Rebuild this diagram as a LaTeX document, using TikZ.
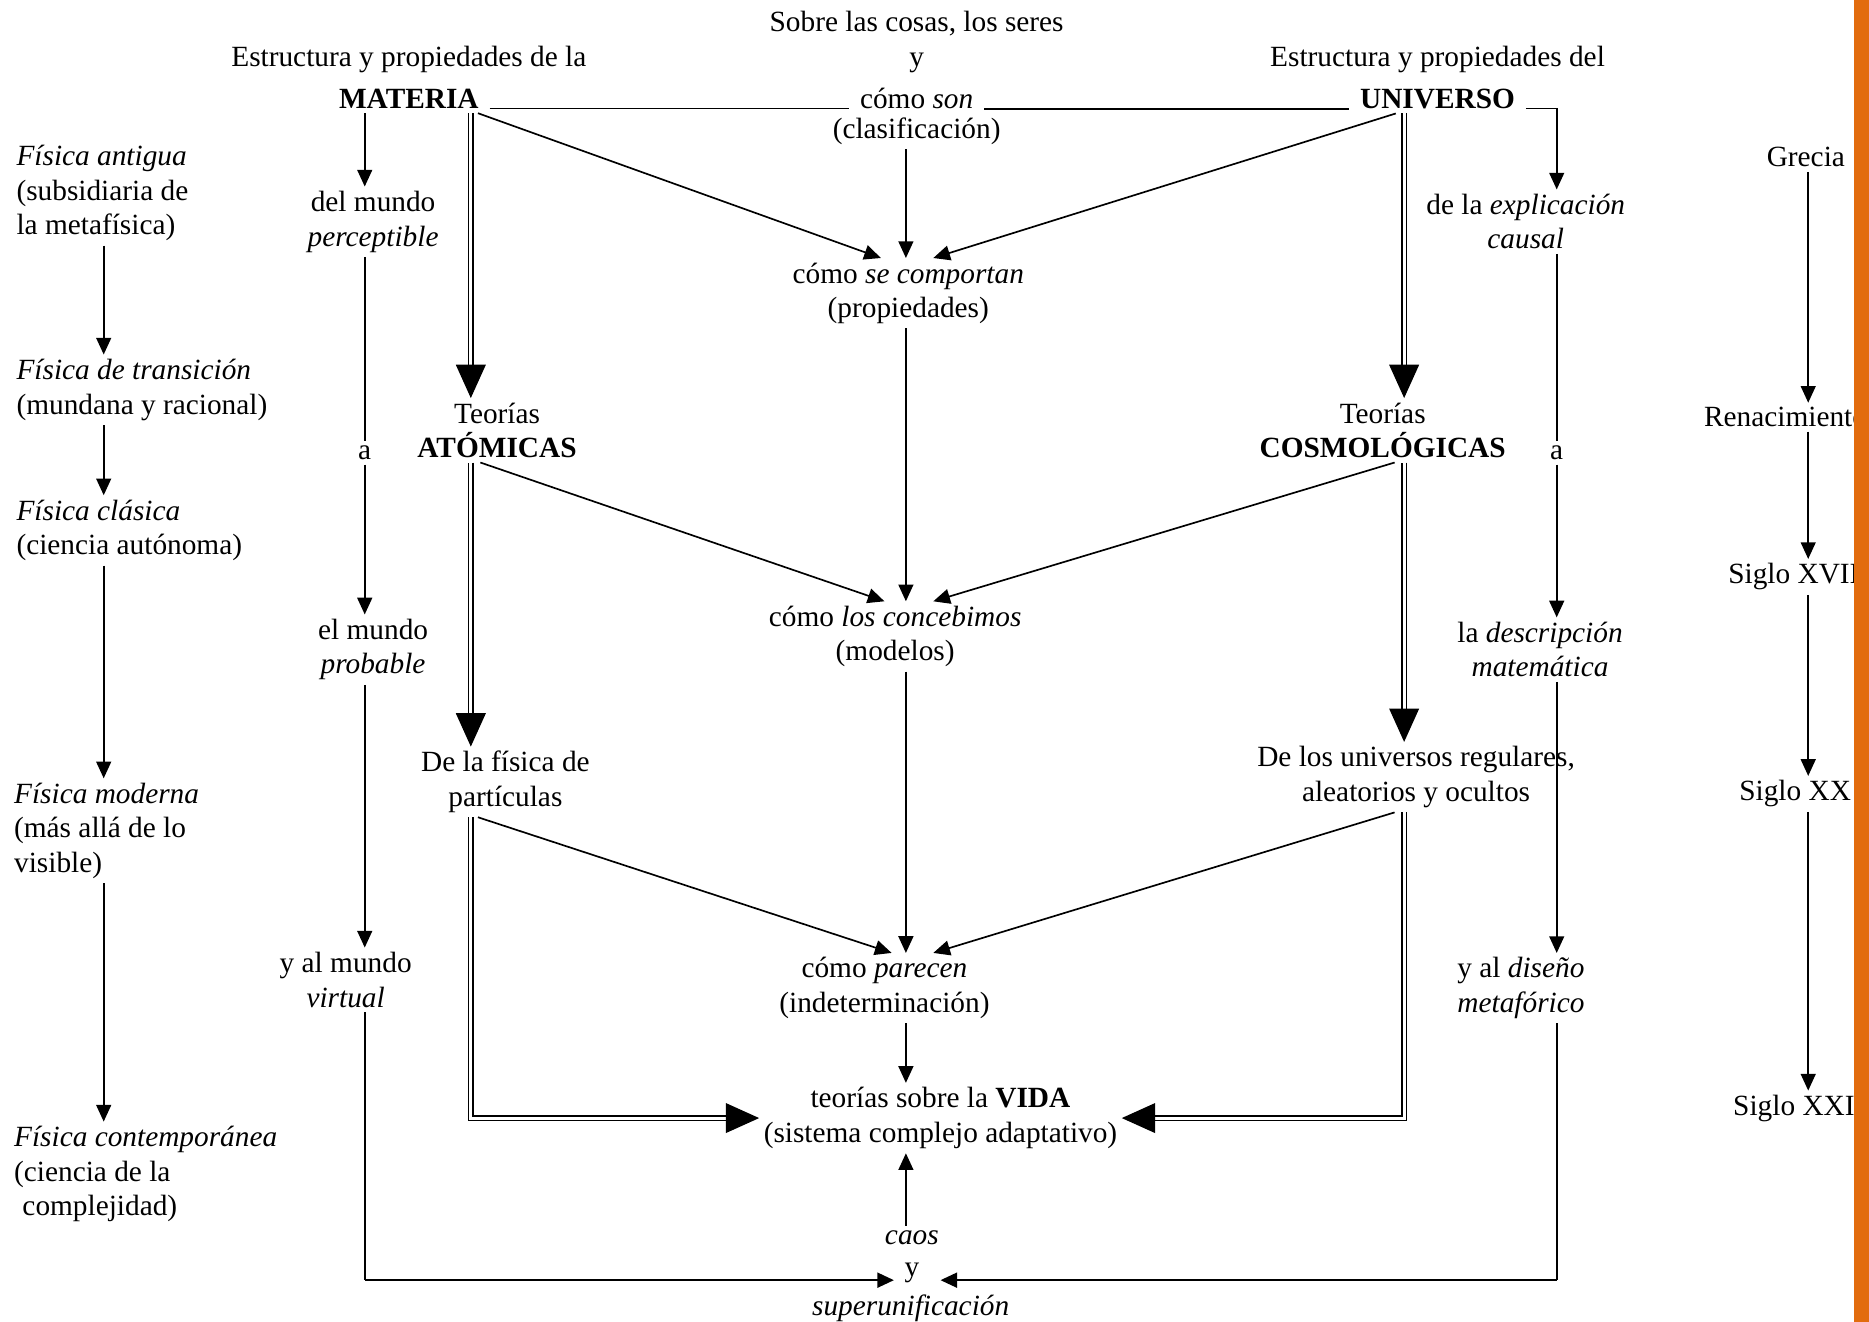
\documentclass[tikz,border=0pt]{standalone}
\usepackage{fontspec}
\setmainfont{Liberation Serif}
\usetikzlibrary{arrows.meta,calc}
\definecolor{barorange}{RGB}{226,108,14}
\tikzset{t/.style={align=center,inner sep=2pt,font=\fontsize{14}{16.5}\selectfont},tl/.style={t,align=left,anchor=west},
ln/.style={line width=0.8pt},ar/.style={ln,-{Triangle[length=2.8mm,width=2.5mm]}},
dbl/.style={double,double distance=1.4pt,line width=0.6pt,-{Triangle[length=5.6mm,width=5mm]}}}

\begin{document}
\begin{tikzpicture}[x=0.2mm,y=-0.2mm]
\useasboundingbox (0,0) rectangle (1568,1109);
% column lines
\coordinate (fl) at (87,0);\coordinate (ll) at (306,0);\coordinate (dl) at (395,0);\coordinate (cc) at (760,0);
\coordinate (dr) at (1178,0);\coordinate (rl) at (1306,0);\coordinate (gl) at (1517,0);
% top
\node[t] (sobre) at (769,35) {Sobre las cosas, los seres\\y};
\node[t,inner xsep=5pt] (son) at (769,83) {cómo \textit{son}};
\node[t] (clas) at (769,110) {(clasificación)};
\node[t] (matT) at (343,50) {Estructura y propiedades de la};
\node[t,inner xsep=5pt] (mat) at (343,83) {\textbf{MATERIA}};
\node[t] (uniT) at (1206,50) {Estructura y propiedades del};
\node[t,inner xsep=5pt] (uni) at (1206,83) {\textbf{UNIVERSO}};
% left: epochs of physics
\node[tl] (fa) at (10,162) {\textit{Física antigua}\\(subsidiaria de\\la metafísica)};
\node[tl] (ft) at (10,327) {\textit{Física de transición}\\(mundana y racional)};
\node[tl] (fc) at (10,445) {\textit{Física clásica}\\(ciencia autónoma)};
\node[tl] (fm) at (8,697) {\textit{Física moderna}\\(más allá de lo\\visible)};
\node[tl] (fco) at (8,985) {\textit{Física contemporánea}\\(ciencia de la\\\hspace{1.4mm}complejidad)};
\foreach\a/\b in{fa/ft,ft/fc,fc/fm,fm/fco}\draw[ar](\a.south -| fl)--(\b.north -| fl);
% matter side
\node[t] (per) at (313,186) {del mundo\\\textit{perceptible}};
\node[t] (a1) at (306,380) {a};
\node[t] (prob) at (313,545) {el mundo\\\textit{probable}};
\node[t] (virt) at (290,822) {y al mundo\\\textit{virtual}};
\node[t] (atom) at (417,361) {Teorías\\\textbf{ATÓMICAS}};
\node[t] (part) at (424,656) {De la física de\\partículas};
% universe side
\node[t] (expl) at (1280,186) {de la \textit{explicación}\\\textit{causal}};
\node[t] (a2) at (1306,380) {a};
\node[t] (desc) at (1292,545) {la \textit{descripción}\\\textit{matemática}};
\node[t] (dis) at (1276,829) {y al \textit{diseño}\\\textit{metafórico}};
\node[t] (cosmo) at (1160,361) {Teorías\\\textbf{COSMOLÓGICAS}};
\node[t] (univ) at (1188,652) {De los universos regulares,\\aleatorios y ocultos};
% centre
\node[t] (comp) at (762,246) {cómo \textit{se comportan}\\(propiedades)};
\node[t] (conc) at (751,534) {cómo \textit{los concebimos}\\(modelos)};
\node[t] (par) at (742,829) {cómo \textit{parecen}\\(indeterminación)};
\node[t] (vida) at (789,938) {teorías sobre la \textbf{VIDA}\\(sistema complejo adaptativo)};
\node[t] (caos) at (765,1038) {\textit{caos}};
\node[t] (yy) at (765,1068) {y};
\node[t] (sup) at (764,1098) {\textit{superunificación}};
% right: epochs
\node[t] (gr) at (1515,132) {Grecia};
\node[t] (ren) at (1498,350) {Renacimiento};
\node[t] (s17) at (1505,484) {Siglo XVII};
\node[t] (s20) at (1506,666) {Siglo XX};
\node[t] (s21) at (1505,930) {Siglo XXI};
\foreach\a/\b in{gr/ren,ren/s17,s17/s20,s20/s21}\draw[ar](\a.south -| gl)--(\b.north -| gl);
% top line
\draw[ln] (mat.base east)--(mat.base east -| son.west);
\draw[ln] (son.base east)--(son.base east -| uni.west);
\draw[ar] (uni.base east) -| (expl.north -| rl);
% thin columns
\coordinate (yl) at ($(yy.west)+(-5,6)$);\coordinate (yr) at ($(yy.east)+(14,6)$);
\draw[ar] (mat.south -| ll)--(per.north -| ll);
\draw[ln] (per.south -| ll)--(a1);\draw[ar] (a1)--(prob.north -| ll);
\draw[ar] (prob.south -| ll)--(virt.north -| ll);
\draw[ln] (virt.south -| ll)--(yl -| ll);\draw[ar,line width=1.2pt] (yl -| ll)--(yl);
\draw[ln] (expl.south -| rl)--(a2);\draw[ar] (a2)--(desc.north -| rl);
\draw[ar] (desc.south -| rl)--(dis.north -| rl);
\draw[ln] (dis.south -| rl)--(yr -| rl);\draw[ar,line width=1.2pt] (yr -| rl)--(yr);
% double columns
\draw[dbl] (mat.south -| dl)--(atom.north -| dl);
\draw[dbl] (atom.south -| dl)--(part.north -| dl);
\draw[dbl] (part.south -| dl) |- (vida.west);
\draw[dbl] (uni.south -| dr)--(cosmo.north -| dr);
\draw[dbl] (cosmo.south -| dr)--(univ.north -| dr);
\draw[dbl] (univ.south -| dr) |- (vida.east);
% centre column
\draw[ar] (clas.south -| cc)--(comp.north -| cc);
\draw[ar] (comp.south -| cc)--(conc.north -| cc);
\draw[ar] (conc.south -| cc)--(par.north -| cc);
\draw[ar] (par.south -| cc)--(vida.north -| cc);
\draw[ar] (caos.north -| cc)--(vida.south -| cc);
% diagonals
\draw[ar] ($(mat.south -| dl)+(6,0)$)--($(comp.north -| cc)+(-21,0)$);
\draw[ar] ($(uni.south -| dr)+(-7,0)$)--($(comp.north -| cc)+(23,0)$);
\draw[ar] ($(atom.south -| dl)+(8,0)$)--($(conc.north -| cc)+(-18,0)$);
\draw[ar] ($(cosmo.south -| dr)+(-8,0)$)--($(conc.north -| cc)+(23,0)$);
\draw[ar] ($(part.south -| dl)+(6,0)$)--($(par.north -| cc)+(-12,0)$);
\draw[ar] ($(univ.south -| dr)+(-8,0)$)--($(par.north -| cc)+(23,0)$);
% orange margin
\fill[barorange] (1555,0) rectangle (1568,1109);
\end{tikzpicture}
\end{document}
